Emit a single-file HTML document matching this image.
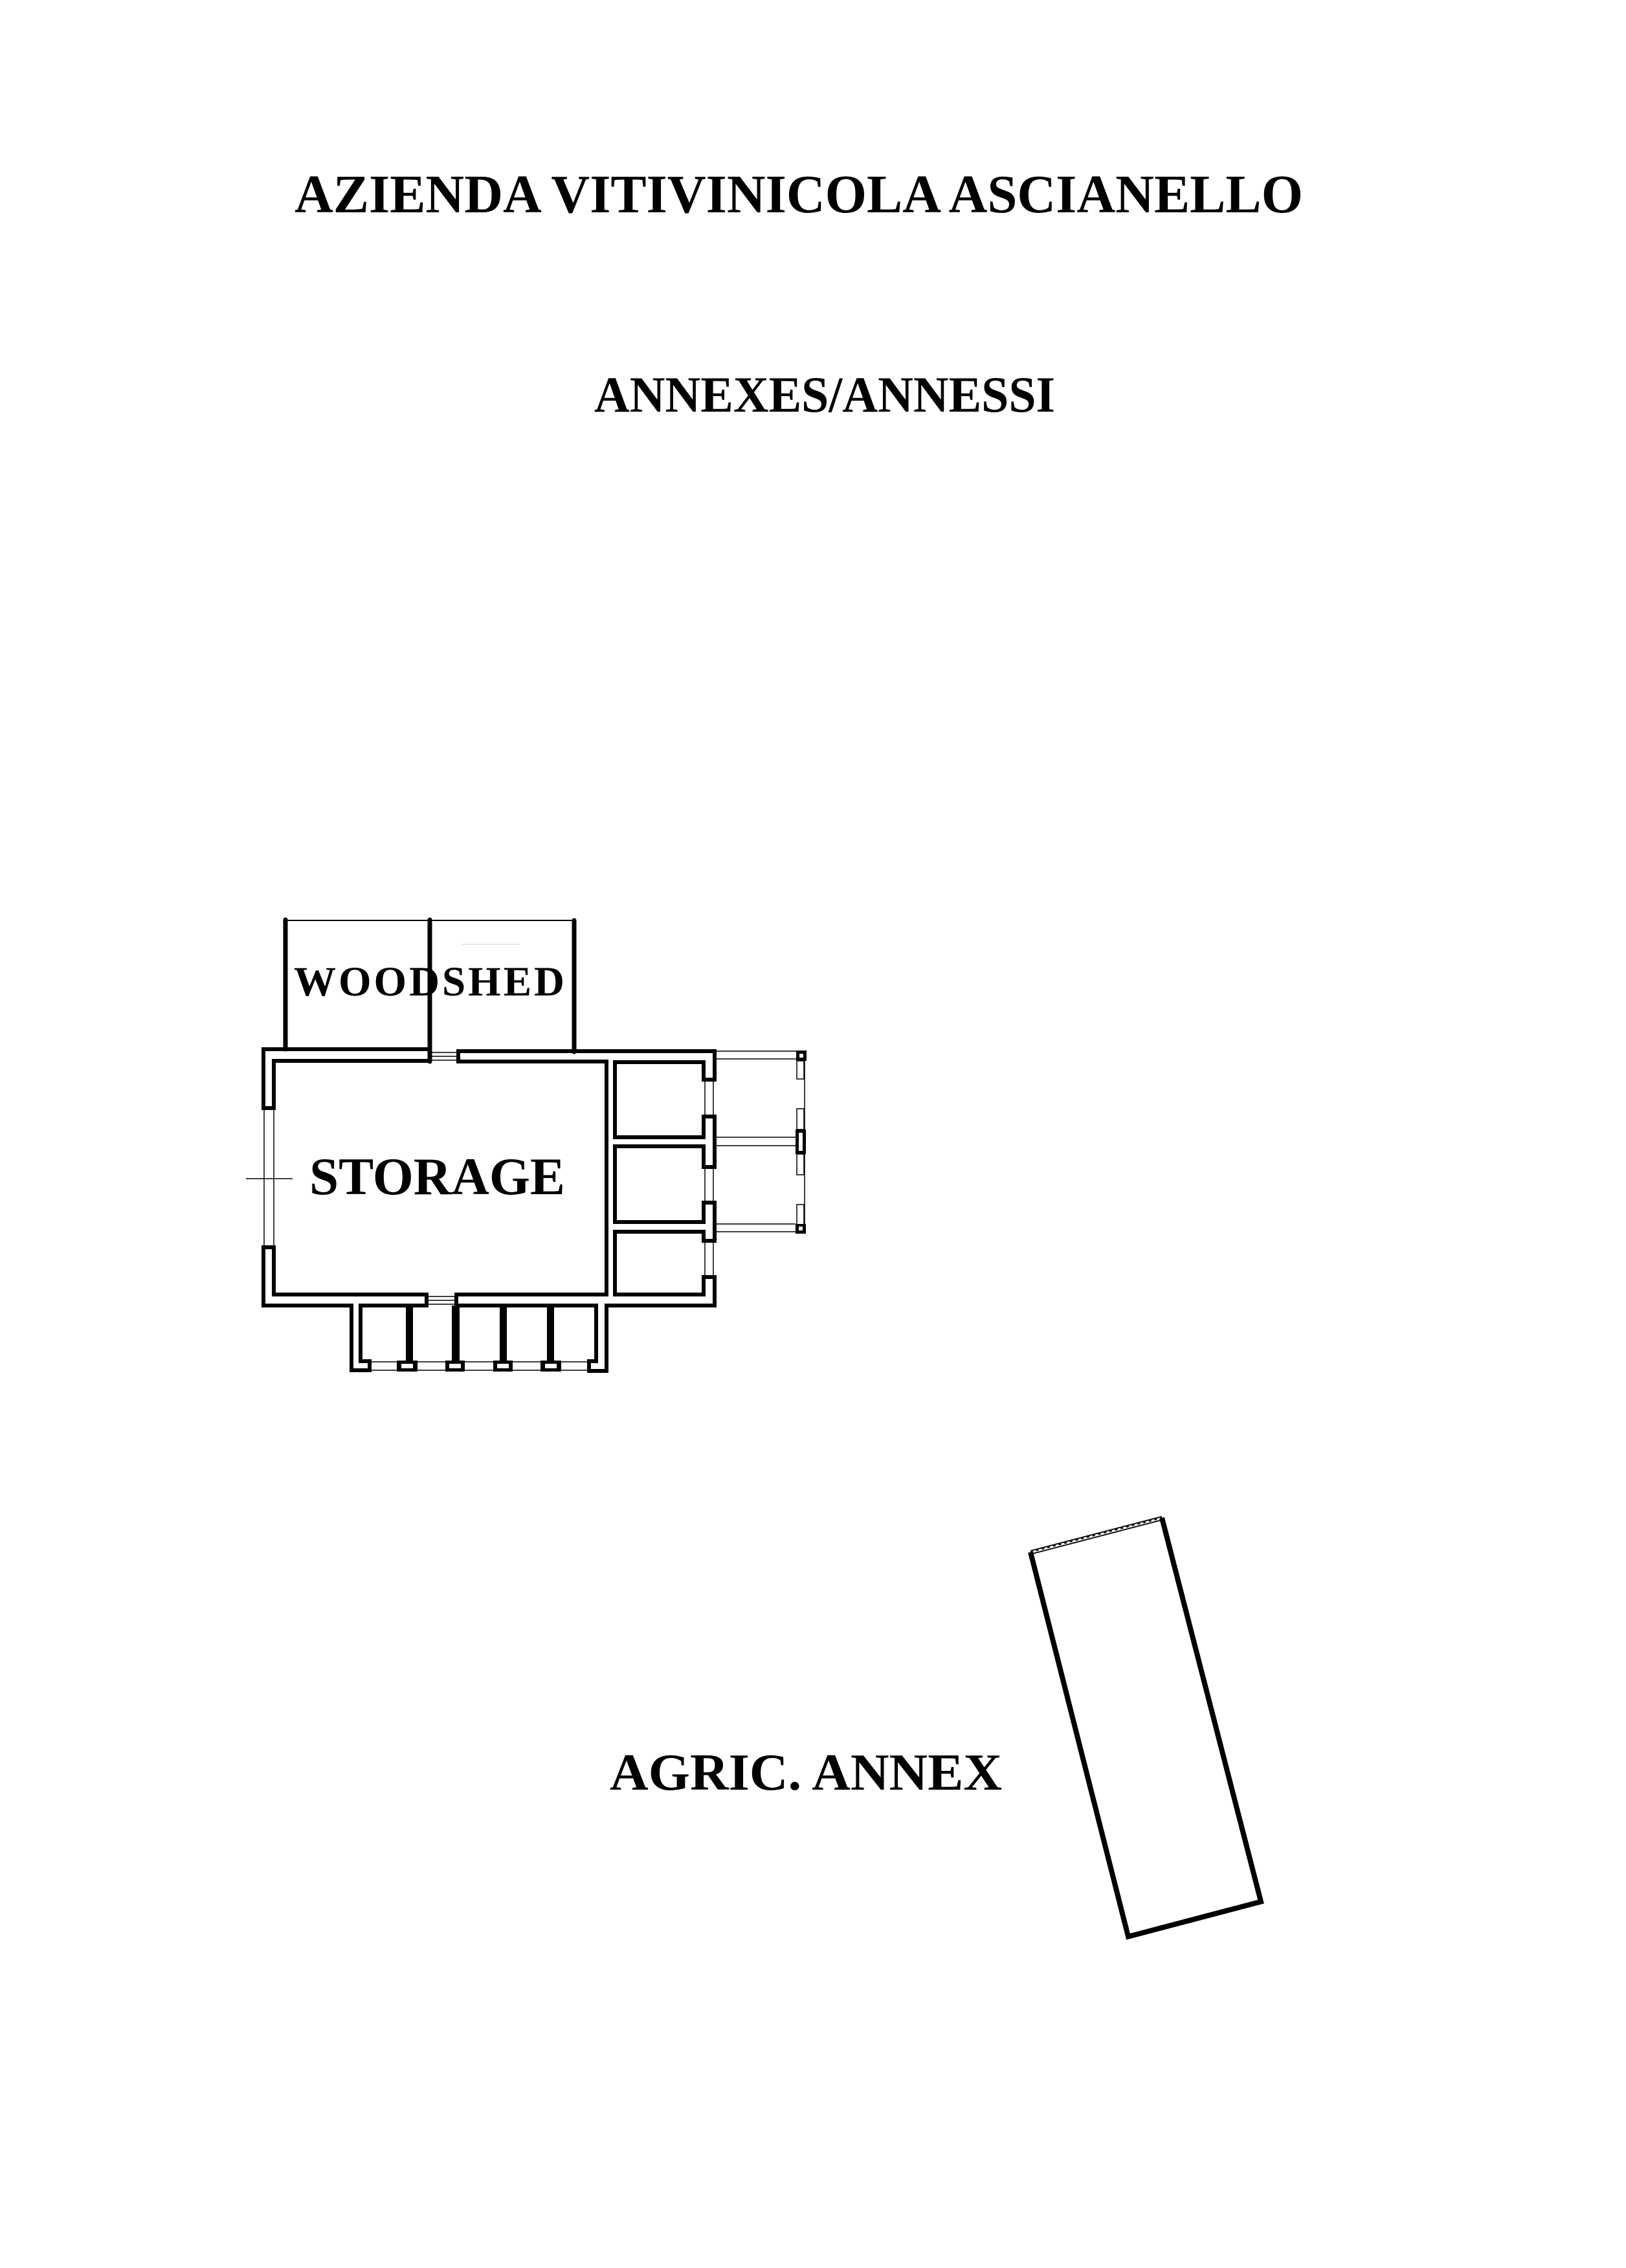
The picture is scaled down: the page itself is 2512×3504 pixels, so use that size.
<!DOCTYPE html>
<html>
<head>
<meta charset="utf-8">
<style>
  html, body { margin: 0; padding: 0; background: #fff; }
  body { width: 2512px; height: 3504px; overflow: hidden; }
  svg { display: block; }
  text { font-family: "Liberation Serif", "Times New Roman", serif; font-weight: bold; fill: #000; }
</style>
</head>
<body>
<svg width="2512" height="3504" viewBox="0 0 2512 3504" xmlns="http://www.w3.org/2000/svg">
  <rect x="0" y="0" width="2512" height="3504" fill="#fff"/>

  <!-- Titles -->
  <text x="455" y="328" font-size="84" textLength="1558" lengthAdjust="spacingAndGlyphs">AZIENDA VITIVINICOLA ASCIANELLO</text>
  <text x="918" y="636" font-size="78" textLength="712" lengthAdjust="spacingAndGlyphs">ANNEXES/ANNESSI</text>

  <!-- Woodshed -->
  <g stroke="#000" fill="none" stroke-linecap="round">
    <line x1="441" y1="1422" x2="887" y2="1422" stroke-width="2"/>
    <line x1="441" y1="1421" x2="441" y2="1621" stroke-width="7"/>
    <line x1="664" y1="1421" x2="664" y2="1640" stroke-width="7"/>
    <line x1="887" y1="1422" x2="887" y2="1625" stroke-width="7"/>
  </g>
  <line x1="713" y1="1459" x2="803" y2="1459" stroke="#ddd" stroke-width="1.5"/>

  <!-- Storage building walls -->
  <g stroke="#000" stroke-width="6" fill="none" stroke-linejoin="miter">
    <path d="M664 1621 L407 1621 L407 1712 L423 1712 L423 1639 L664 1639"/>
    <path d="M423 1927 L423 2000 L659 2000 L659 2017 L557 2017 L557 2103 L571 2103 L571 2117 L543 2117 L543 2017 L407 2017 L407 1927 Z"/>
    <path d="M708 1640 L937 1640 L937 2000 L705 2000 L705 2017 L921 2017 L921 2103 L910 2103 L910 2118 L937 2118 L937 2017 L1104 2017 L1104 1973 L1087 1973 L1087 2000 L950 2000 L950 1903 L1087 1903 L1087 1917 L1104 1917 L1104 1858 L1087 1858 L1087 1888 L950 1888 L950 1771 L1087 1771 L1087 1803 L1104 1803 L1104 1725 L1087 1725 L1087 1757 L950 1757 L950 1641 L1087 1641 L1087 1668 L1104 1668 L1104 1624 L708 1624 Z"/>
  </g>

  <!-- Windows / openings (thin lines) -->
  <g stroke="#000" stroke-width="1.5" fill="none">
    <line x1="408" y1="1712" x2="408" y2="1927"/>
    <line x1="423" y1="1712" x2="423" y2="1927"/>
    <line x1="1089" y1="1668" x2="1089" y2="1725"/>
    <line x1="1102" y1="1668" x2="1102" y2="1725"/>
    <line x1="1089" y1="1803" x2="1089" y2="1858"/>
    <line x1="1102" y1="1803" x2="1102" y2="1858"/>
    <line x1="1089" y1="1917" x2="1089" y2="1973"/>
    <line x1="1102" y1="1917" x2="1102" y2="1973"/>
    <line x1="666" y1="1626" x2="708" y2="1626"/>
    <line x1="666" y1="1632" x2="708" y2="1632"/>
    <line x1="666" y1="1638" x2="708" y2="1638"/>
    <line x1="659" y1="2003" x2="705" y2="2003"/>
    <line x1="659" y1="2009" x2="705" y2="2009"/>
    <line x1="659" y1="2015" x2="705" y2="2015"/>
    <line x1="380" y1="1821" x2="452" y2="1821"/>
    <line x1="571" y1="2104" x2="910" y2="2104"/>
    <line x1="571" y1="2117" x2="910" y2="2117"/>
  </g>

  <!-- Porch piers -->
  <g fill="#000">
    <rect x="627" y="2017" width="11" height="88"/>
    <rect x="698" y="2017" width="12" height="88"/>
    <rect x="772" y="2017" width="11" height="88"/>
    <rect x="845" y="2017" width="11" height="88"/>
    <rect x="613" y="2102" width="32" height="17"/>
    <rect x="688" y="2102" width="30" height="17"/>
    <rect x="762" y="2102" width="30" height="17"/>
    <rect x="835" y="2102" width="32" height="17"/>
  </g>
  <g fill="#fff">
    <rect x="620" y="2107" width="18" height="7"/>
    <rect x="694" y="2107" width="18" height="7"/>
    <rect x="768" y="2107" width="18" height="7"/>
    <rect x="842" y="2107" width="18" height="7"/>
  </g>

  <!-- Pergola -->
  <g stroke="#000" stroke-width="1.5" fill="none">
    <line x1="1104" y1="1624" x2="1230" y2="1624"/>
    <line x1="1104" y1="1636" x2="1230" y2="1636"/>
    <line x1="1104" y1="1757" x2="1229" y2="1757"/>
    <line x1="1104" y1="1770" x2="1229" y2="1770"/>
    <line x1="1104" y1="1891" x2="1229" y2="1891"/>
    <line x1="1104" y1="1903" x2="1229" y2="1903"/>
    <line x1="1243" y1="1639" x2="1243" y2="1892"/>
    <rect x="1231" y="1639" width="11" height="28"/>
    <rect x="1231" y="1713" width="11" height="32"/>
    <rect x="1231" y="1783" width="11" height="32"/>
    <rect x="1231" y="1861" width="11" height="31"/>
  </g>
  <g fill="#000">
    <rect x="1230" y="1623" width="16" height="16"/>
    <rect x="1229" y="1745" width="16" height="38"/>
    <rect x="1229" y="1891" width="16" height="15"/>
  </g>
  <g fill="#fff">
    <rect x="1235" y="1628" width="6" height="6"/>
    <rect x="1234" y="1750" width="6" height="28"/>
    <rect x="1234" y="1895" width="6" height="6"/>
  </g>

  <!-- Labels in plan -->
  <text x="454" y="1538" font-size="65" textLength="418" lengthAdjust="spacing">WOODSHED</text>
  <text x="478" y="1845" font-size="82" textLength="395" lengthAdjust="spacingAndGlyphs">STORAGE</text>

  <!-- Agricultural annex -->
  <g stroke="#000" fill="none">
    <polyline points="1592,2398 1743,2992 1948,2938 1795,2345" stroke-width="8" stroke-linejoin="miter"/>
    <line x1="1592" y1="2396" x2="1795" y2="2343" stroke-width="1.8"/>
    <line x1="1593" y1="2401" x2="1796" y2="2348" stroke-width="1.8"/>
    <line x1="1592" y1="2398" x2="1795" y2="2345" stroke-width="2" stroke-dasharray="4 5"/>
  </g>
  <text x="942" y="2765" font-size="80" textLength="606" lengthAdjust="spacingAndGlyphs">AGRIC. ANNEX</text>
</svg>
</body>
</html>
